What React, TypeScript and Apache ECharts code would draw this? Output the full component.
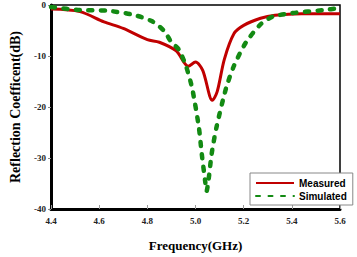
import React, { useEffect, useRef } from "react";
import * as echarts from "echarts";

const measuredFreq = [4.40, 4.52, 4.62, 4.70, 4.80, 4.85, 4.92, 4.97, 5.00, 5.03, 5.07, 5.09, 5.12, 5.16, 5.20, 5.27, 5.33, 5.44, 5.60];
const measuredDb = [-0.8, -1.3, -3.3, -4.6, -6.8, -7.3, -9.0, -12.0, -11.2, -12.8, -18.7, -17.0, -10.6, -5.6, -4.0, -2.6, -2.0, -1.7, -1.7];

const simulatedFreq = [4.40, 4.52, 4.63, 4.74, 4.82, 4.87, 4.90, 4.93, 4.96, 4.986, 5.014, 5.026, 5.04, 5.046, 5.055, 5.067, 5.087, 5.127, 5.16, 5.21, 5.27, 5.32, 5.40, 5.53, 5.60];
const simulatedDb = [-0.4, -1.0, -1.1, -1.9, -3.2, -5.1, -7.3, -8.7, -11.9, -16.3, -24.0, -29.2, -34.5, -36.5, -34.0, -29.2, -24.0, -16.3, -11.9, -7.3, -3.8, -2.3, -1.6, -1.0, -0.6];

const xTicks = [4.4, 4.6, 4.8, 5.0, 5.2, 5.4, 5.6];

export default function App() {
  const ref = useRef<HTMLDivElement>(null);
  useEffect(() => {
    if (!ref.current) return;
    const chart = echarts.init(ref.current, null, { renderer: "svg" });
    const serif = "'Liberation Serif', 'Times New Roman', serif";
    chart.setOption({
      animation: false,
      backgroundColor: "#fff",
      grid: {
        left: 43,
        top: 5,
        right: 17,
        bottom: 44,
        show: true,
        borderColor: "#000",
        borderWidth: 1.5,
      },
      xAxis: {
        type: "value",
        min: 4.4,
        max: 5.6,
        interval: 0.2,
        name: "Frequency(GHz)",
        nameLocation: "middle",
        nameGap: 30,
        nameTextStyle: { fontFamily: serif, fontWeight: "bold", fontSize: 13, color: "#000" },
        axisLine: { show: true, onZero: false, lineStyle: { color: "#000", width: 3 } },
        axisTick: { show: true, inside: true, length: 4, lineStyle: { color: "#999" } },
        splitLine: { show: false },
        axisLabel: {
          fontFamily: serif,
          fontWeight: "bold",
          fontSize: 9,
          color: "#222",
          margin: 7,
          formatter: (v: number) => (xTicks.some((t) => Math.abs(t - v) < 1e-6) ? v.toFixed(1) : ""),
        },
      },
      yAxis: {
        type: "value",
        min: -40,
        max: 0,
        interval: 10,
        name: "Reflection Coefficent(dB)",
        nameLocation: "middle",
        nameGap: 29,
        nameTextStyle: { fontFamily: serif, fontWeight: "bold", fontSize: 14, color: "#000" },
        axisLine: { show: true, lineStyle: { color: "#000", width: 3 } },
        axisTick: { show: true, length: 3, lineStyle: { color: "#888" } },
        splitLine: { show: false },
        axisLabel: { fontFamily: serif, fontWeight: "bold", fontSize: 9, color: "#222", margin: 5 },
      },
      legend: {
        orient: "vertical",
        left: 250,
        top: 173,
        width: 80,
        itemWidth: 38,
        itemHeight: 10,
        itemGap: 3,
        padding: [5, 6, 4, 5],
        backgroundColor: "#fff",
        borderColor: "#888",
        borderWidth: 1,
        borderRadius: 0,
        itemStyle: { opacity: 0 },
        textStyle: { fontFamily: "'Liberation Sans', Arial, sans-serif", fontWeight: "bold", fontSize: 10, color: "#000" },
        data: ["Measured", "Simulated"],
      },
      series: [
        {
          name: "Measured",
          type: "line",
          smooth: 0.3,
          symbol: "none",
          data: measuredFreq.map((f, i) => [f, measuredDb[i]]),
          lineStyle: { color: "#c00000", width: 3 },
          itemStyle: { color: "#c00000" },
          z: 2,
        },
        {
          name: "Simulated",
          type: "line",
          smooth: 0.25,
          symbol: "none",
          data: simulatedFreq.map((f, i) => [f, simulatedDb[i]]),
          lineStyle: { color: "#138a13", width: 4.5, type: [4, 8.5], cap: "round" },
          itemStyle: { color: "#138a13" },
          z: 3,
        },
      ],
    });
    return () => chart.dispose();
  }, []);
  return <div ref={ref} style={{ width: 357, height: 257, position: "absolute", left: 0, top: 0 }} />;
}
